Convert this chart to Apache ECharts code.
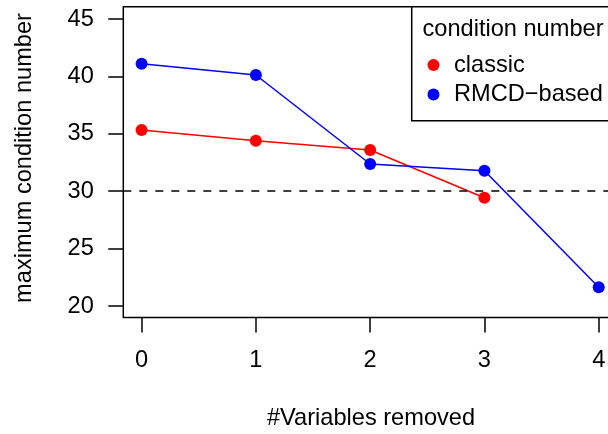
<!DOCTYPE html>
<html>
<head>
<meta charset="utf-8">
<script src="https://cdn.jsdelivr.net/npm/echarts@6/dist/echarts.min.js"></script>
<style>
html,body{margin:0;padding:0;background:#fff;}
#chart{width:608px;height:434px;}
</style>
</head>
<body>
<div id="chart"></div>
<script>
var xValues = [0, 1, 2, 3, 4];
var classicValues = [35.33, 34.4, 33.59, 29.43];
var rmcdValues = [41.1, 40.12, 32.37, 31.79, 21.63];
var yTicks = [20, 25, 30, 35, 40, 45];
var xTicks = [0, 1, 2, 3, 4];
var threshold = 30;
var seriesNames = ['classic', 'RMCD\u2212based'];
var legendTitle = 'condition number';
var xTitle = '#Variables removed';
var yTitle = 'maximum condition number';

var FONT = '"Liberation Sans", Arial, sans-serif';
var FS = 23.6;

function pairs(vals) {
  return vals.map(function (v, i) { return [xValues[i], v]; });
}

var chart = echarts.init(document.getElementById('chart'), null, {renderer: 'canvas'});
chart.setOption({
  animation: false,
  backgroundColor: '#fff',
  textStyle: {fontFamily: FONT},
  grid: {
    left: 123.3, top: 6.7, width: 493.7, height: 310.8,
    outerBoundsMode: 'none', containLabel: false,
    show: true, borderColor: '#000', borderWidth: 1.5, backgroundColor: 'transparent'
  },
  xAxis: {
    type: 'value', min: -0.16, max: 4.16, position: 'bottom',
    splitLine: {show: false},
    axisLine: {show: false, onZero: false},
    axisTick: {show: true, length: 15, inside: false, customValues: xTicks, lineStyle: {color: '#000', width: 1.5}},
    axisLabel: {show: true, customValues: xTicks, color: '#000', fontSize: FS, fontFamily: FONT, margin: 31, lineHeight: 24}
  },
  yAxis: {
    type: 'value', min: 19.0, max: 46.07, position: 'left',
    splitLine: {show: false},
    axisLine: {show: false, onZero: false},
    axisTick: {show: true, length: 15, inside: false, customValues: yTicks, lineStyle: {color: '#000', width: 1.5}},
    axisLabel: {show: true, customValues: yTicks, color: '#000', fontSize: FS, fontFamily: FONT, margin: 29.5}
  },
  legend: {
    show: true, orient: 'vertical', left: 427.5, top: 53, padding: 0,
    itemWidth: 12, itemHeight: 12, itemGap: 5.5, icon: 'circle', z: 10,
    data: seriesNames,
    textStyle: {color: '#000', fontSize: FS, fontFamily: FONT, lineHeight: 24, padding: [0, 0, 0, 9.5]}
  },
  graphic: [
    {type: 'rect', z: 5, shape: {x: 411.7, y: 6.7, width: 260, height: 114}, style: {fill: '#fff', stroke: '#000', lineWidth: 1.5}},
    {type: 'text', z: 6, x: 422.5, y: 29, style: {text: legendTitle, fill: '#000', font: FS + 'px ' + FONT, textVerticalAlign: 'middle', textAlign: 'left'}},
    {type: 'text', z: 6, x: 371, y: 418, style: {text: xTitle, fill: '#000', font: FS + 'px ' + FONT, textVerticalAlign: 'middle', textAlign: 'center'}},
    {type: 'text', z: 6, x: 24, y: 158, rotation: Math.PI / 2, style: {text: yTitle, fill: '#000', font: FS + 'px ' + FONT, textVerticalAlign: 'middle', textAlign: 'center'}}
  ],
  series: [
    {
      name: seriesNames[0], type: 'line', data: pairs(classicValues),
      symbol: 'circle', symbolSize: 12, color: '#ff0000',
      lineStyle: {color: '#ff0000', width: 1.5}, itemStyle: {color: '#ff0000'},
      markLine: {
        silent: true, symbol: 'none', label: {show: false},
        lineStyle: {color: '#000', width: 1.5, type: [8, 8]},
        data: [{yAxis: threshold}]
      }
    },
    {
      name: seriesNames[1], type: 'line', data: pairs(rmcdValues),
      symbol: 'circle', symbolSize: 12, color: '#0000ff',
      lineStyle: {color: '#0000ff', width: 1.5}, itemStyle: {color: '#0000ff'}
    }
  ]
});
</script>
</body>
</html>
